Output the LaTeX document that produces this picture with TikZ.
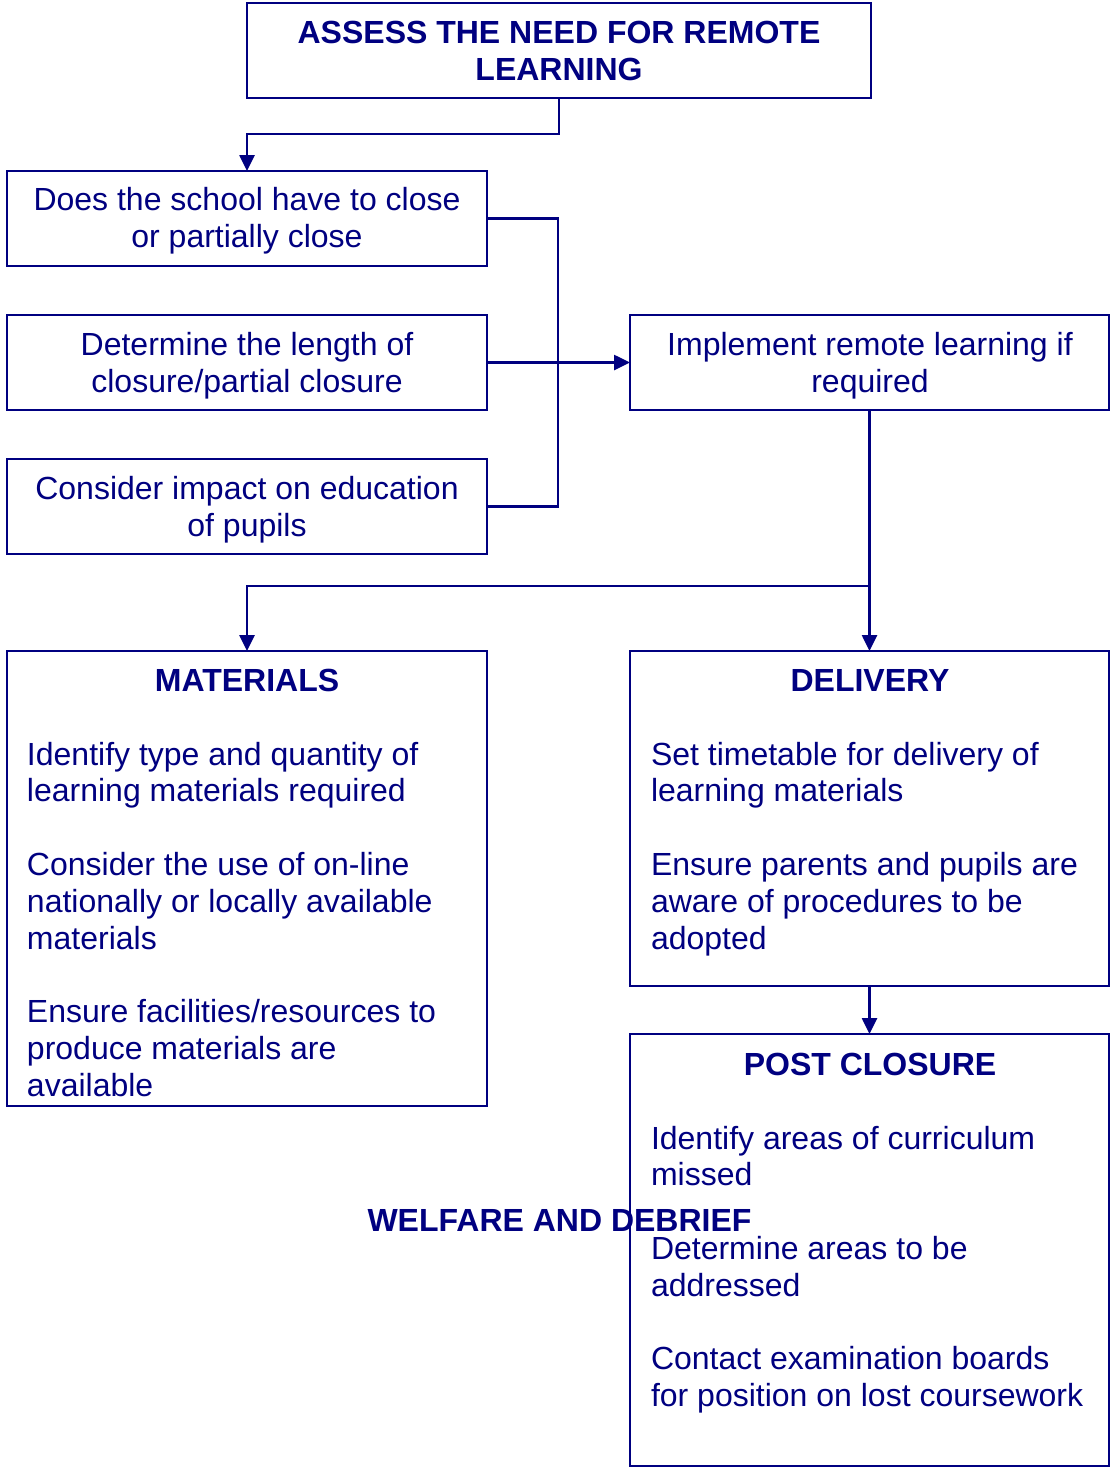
\documentclass[tikz,border=0pt]{standalone}
\usepackage{fontspec}
\setmainfont{Liberation Sans}
\usetikzlibrary{arrows.meta}
\definecolor{navy}{RGB}{0,0,128}
\begin{document}
\begin{tikzpicture}[x=1pt,y=-1pt,
  box/.style={draw=navy,line width=2pt,rectangle,inner sep=0pt,outer sep=0pt},
  conn/.style={draw=navy,line width=2.6pt},
  arr/.style={conn,-{Triangle[length=16pt,width=15pt]}},
  txt/.style={inner sep=0pt,outer sep=0pt,text=navy,font=\fontsize{32}{36.8}\selectfont},
  ttl/.style={txt,font=\fontsize{32}{36.8}\selectfont\bfseries},
  lt/.style={txt,anchor=base west},
  ct/.style={txt,anchor=base},
  bt/.style={ttl,anchor=base}]
\useasboundingbox (0,0) rectangle (1110,1468);
% boxes
\node[box,minimum width=624pt,minimum height=95pt] (top) at (559,50.5) {};
\node[box,minimum width=480pt,minimum height=95pt] (A) at (247,218.5) {};
\node[box,minimum width=480pt,minimum height=95pt] (B) at (247,362.5) {};
\node[box,minimum width=480pt,minimum height=95pt] (C) at (247,506.5) {};
\node[box,minimum width=479pt,minimum height=95pt] (D) at (869.5,362.5) {};
\node[box,minimum width=480pt,minimum height=455pt] (MAT) at (247,878.5) {};
\node[box,minimum width=479pt,minimum height=335pt] (DEL) at (869.5,818.5) {};
\node[box,minimum width=479pt,minimum height=432pt] (POST) at (869.5,1250) {};
% connectors
\draw[arr] (top.south) -- ++(0,36) -| (A.north);
\coordinate (jx) at (558,218.5);
\draw[conn] (A.east) -- (jx) -- (jx |- C.east) -- (C.east);
\draw[arr] (B.east) -- (D.west);
\draw[arr] (D.south) -- (DEL.north);
\coordinate (br) at (869.5,586);
\draw[arr] (br) -| (MAT.north);
\draw[arr] (DEL.south) -- (POST.north);
% texts
\node[bt] (t1) at (559,43.5) {ASSESS THE NEED FOR REMOTE};
\node[bt] (t2) at (559,80.5) {LEARNING};
\node[ct] (a1) at (247,210.5) {Does the school have to close};
\node[ct] (a2) at (247,247.5) {or partially close};
\node[ct] (b1) at (247,355) {Determine the length of};
\node[ct] (b2) at (247,392) {closure/partial closure};
\node[ct] (c1) at (247,499) {Consider impact on education};
\node[ct] (c2) at (247,536) {of pupils};
\node[ct] (d1) at (870,355) {Implement remote learning if};
\node[ct] (d2) at (870,392) {required};
% materials
\node[bt] (m0) at (247,691.5) {MATERIALS};
\node[lt] (m1) at (27,765) {Identify type and quantity of};
\node[lt] (m2) at (27,801.8) {learning materials required};
\node[lt] (m3) at (27,875.4) {Consider the use of on-line};
\node[lt] (m4) at (27,912.2) {nationally or locally available};
\node[lt] (m5) at (27,949) {materials};
\node[lt] (m6) at (27,1022.6) {Ensure facilities/resources to};
\node[lt] (m7) at (27,1059.4) {produce materials are};
\node[lt] (m8) at (27,1096.2) {available};
% delivery
\node[bt] (e0) at (870,691.5) {DELIVERY};
\node[lt] (e1) at (651,765) {Set timetable for delivery of};
\node[lt] (e2) at (651,801.8) {learning materials};
\node[lt] (e3) at (651,875.4) {Ensure parents and pupils are};
\node[lt] (e4) at (651,912.2) {aware of procedures to be};
\node[lt] (e5) at (651,949) {adopted};
% post closure
\node[bt] (p0) at (870,1075.5) {POST CLOSURE};
\node[lt] (p1) at (651,1149) {Identify areas of curriculum};
\node[lt] (p2) at (651,1185.8) {missed};
\node[lt] (p3) at (651,1259.4) {Determine areas to be};
\node[lt] (p4) at (651,1296.2) {addressed};
\node[lt] (p5) at (651,1369.8) {Contact examination boards};
\node[lt] (p6) at (651,1406.6) {for position on lost coursework};
% welfare
\node[bt] (w0) at (559.5,1231.5) {WELFARE AND DEBRIEF};
\end{tikzpicture}
\end{document}
